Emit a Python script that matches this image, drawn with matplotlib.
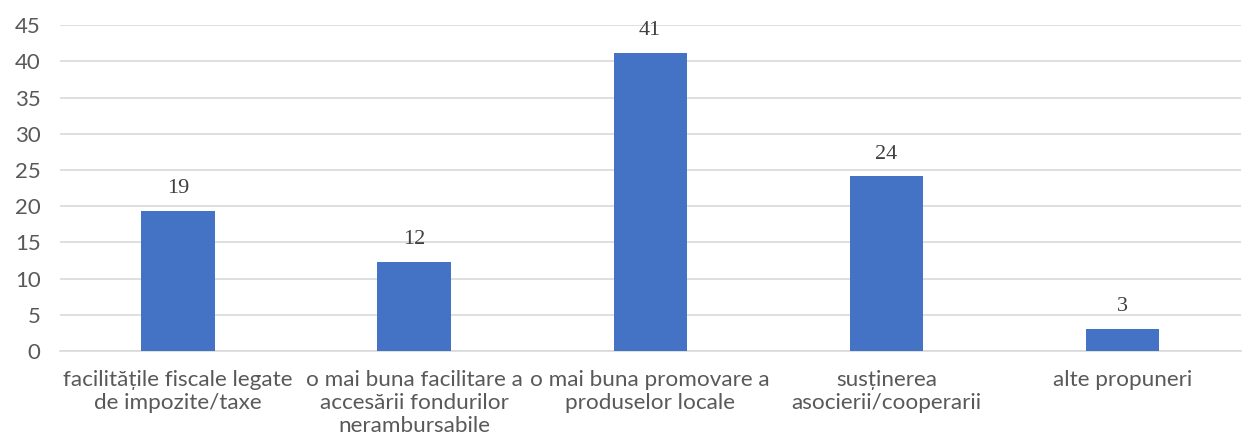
import matplotlib
matplotlib.use('Agg')
import matplotlib.pyplot as plt

# categorii si valori
categorii = ['facilitățile fiscale legate\nde impozite/taxe',
             'o mai buna facilitare a\naccesării fondurilor\nnerambursabile',
             'o mai buna promovare a\nproduselor locale',
             'susținerea\nasocierii/cooperarii',
             'alte propuneri']
valori = [19.4, 12.3, 41.2, 24.1, 3.0]
etichete = ['19', '12', '41', '24', '3']
y_ticks = [0, 5, 10, 15, 20, 25, 30, 35, 40, 45]

fig = plt.figure(figsize=(12.48, 4.48), dpi=100)
ax = fig.add_axes([0.048, 0.2165, 0.946, 0.7275])

x = range(len(categorii))
bare = ax.bar(x, valori, width=0.31, color='#4472c4', zorder=3)

for b, t in zip(bare, etichete):
    ax.text(b.get_x() + b.get_width() / 2, b.get_height() + 3.1, t,
            ha='center', va='center', fontsize=16, color='#404040',
            family='Liberation Serif')

ax.set_xlim(-0.5, len(categorii) - 0.5)
ax.set_ylim(0, 45)
ax.set_yticks(y_ticks)
ax.set_xticks(list(x))
ax.set_xticklabels(categorii, fontsize=16.2, color='#595959', family='Lato', linespacing=1.17)
ax.tick_params(axis='y', labelsize=16, labelcolor='#595959', length=0, pad=14)
ax.tick_params(axis='x', length=0, pad=14)
for lbl in ax.get_yticklabels():
    lbl.set_family('Lato')

ax.grid(axis='y', color='#d9d9d9', linewidth=1.2, zorder=0)
for s in ['top', 'right', 'left']:
    ax.spines[s].set_visible(False)
ax.spines['bottom'].set_color('#d9d9d9')
ax.spines['bottom'].set_linewidth(1.2)

fig.savefig('out.png', dpi=100)
